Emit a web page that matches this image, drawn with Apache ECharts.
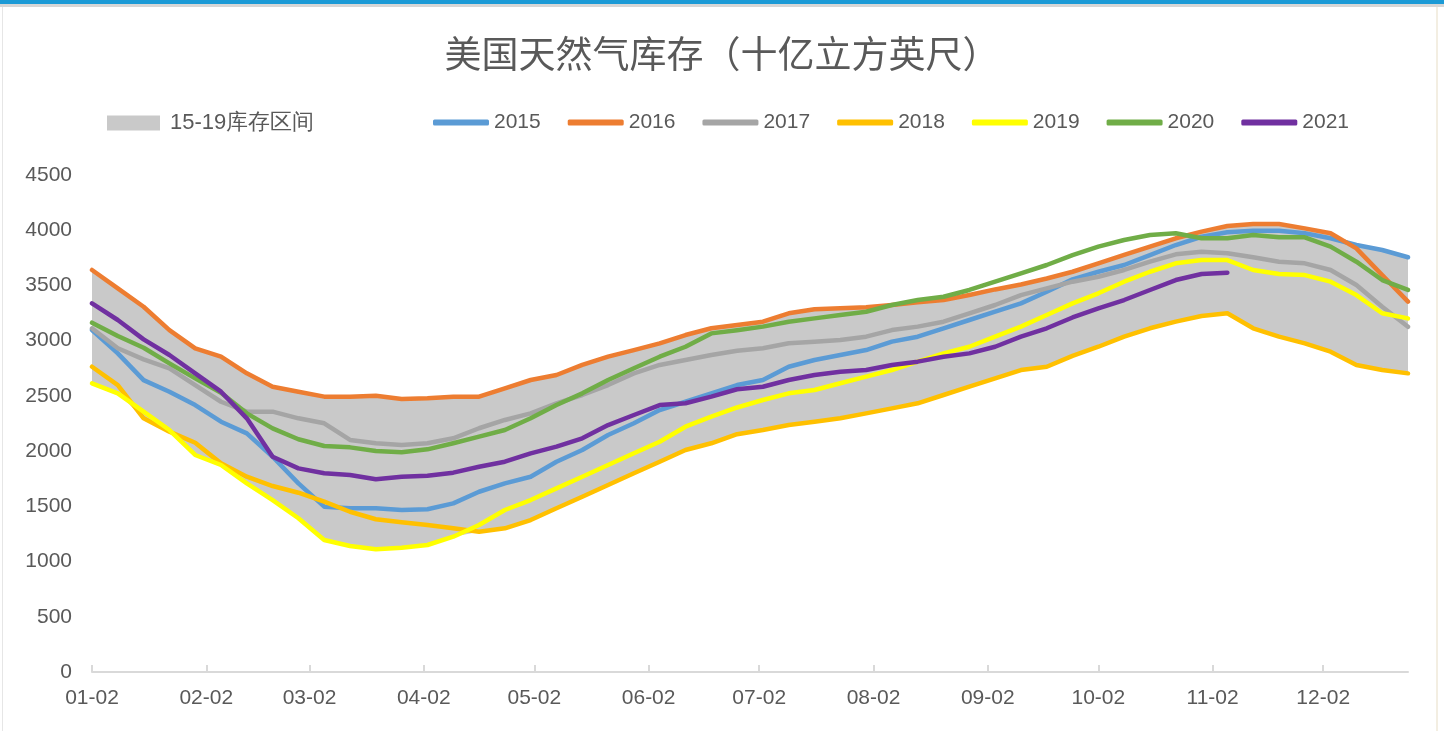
<!DOCTYPE html>
<html>
<head>
<meta charset="utf-8">
<script src="https://cdn.jsdelivr.net/npm/echarts@6/dist/echarts.min.js"></script>
<style>
  html, body { margin: 0; padding: 0; background: #fff; }
  #chart { width: 1444px; height: 731px; }
</style>
</head>
<body>
<div id="chart"></div>
<script>
// weekly report dates (MM-DD)
const weeks = [
  '01-02','01-09','01-16','01-23','01-30','02-06','02-13','02-20','02-27',
  '03-06','03-13','03-20','03-27','04-03','04-10','04-17','04-24',
  '05-01','05-08','05-15','05-22','05-29','06-05','06-12','06-19','06-26',
  '07-03','07-10','07-17','07-24','07-31','08-07','08-14','08-21','08-28',
  '09-04','09-11','09-18','09-25','10-02','10-09','10-16','10-23','10-30',
  '11-06','11-13','11-20','11-27','12-04','12-11','12-18','12-25'
];
const monthTicks = ['01-02','02-02','03-02','04-02','05-02','06-02','07-02','08-02','09-02','10-02','11-02','12-02'];
const yTicks = { min: 0, max: 4500, step: 500 };

const s2015 = [3096,2885,2643,2538,2417,2266,2161,1949,1708,1497,1482,1482,1467,1473,
  1527,1632,1708,1768,1904,2010,2146,2252,2372,2447,2523,2598,
  2644,2764,2825,2870,2915,2991,3036,3112,3187,3262,3338,3443,
  3555,3624,3685,3775,3866,3941,3981,3996,3996,3972,3927,3866,3821,3755];
const s2016 = [3640,3474,3307,3096,2930,2855,2704,2583,2538,2493,2493,2502,2472,2478,
  2493,2493,2569,2644,2689,2780,2855,2915,2976,3051,3112,3142,
  3172,3248,3285,3294,3303,3323,3348,3368,3413,3464,3509,3563,
  3624,3700,3776,3851,3927,3987,4038,4056,4056,4017,3972,3836,3594,3353];
const s2017 = [3112,2931,2831,2750,2598,2447,2357,2357,2297,2252,2101,2071,2055,2071,
  2116,2207,2282,2342,2433,2508,2598,2704,2780,2825,2870,2908,
  2931,2976,2991,3006,3036,3096,3127,3172,3248,3323,3413,3474,
  3534,3579,3640,3715,3782,3806,3791,3755,3715,3700,3640,3504,3307,3126];
const s2018 = [2764,2598,2297,2176,2076,1889,1768,1684,1623,1542,1451,1383,1355,1331,
  1301,1270,1301,1376,1482,1587,1693,1799,1904,2010,2071,2153,
  2191,2236,2266,2297,2342,2387,2433,2508,2583,2659,2734,2764,
  2862,2945,3036,3112,3172,3223,3248,3112,3036,2976,2900,2780,2734,2704];
const s2019 = [2614,2523,2357,2191,1965,1874,1708,1557,1392,1195,1141,1111,1126,1150,
  1225,1331,1467,1557,1663,1768,1874,1980,2085,2221,2312,2395,
  2463,2523,2553,2614,2674,2734,2810,2885,2945,3036,3127,3232,
  3338,3429,3534,3624,3700,3730,3730,3640,3604,3594,3534,3413,3248,3202];
const s2020 = [3163,3042,2936,2795,2659,2529,2342,2206,2107,2046,2034,2001,1989,2016,
  2071,2131,2191,2297,2417,2523,2644,2750,2855,2945,3066,3095,
  3127,3172,3202,3232,3262,3323,3368,3398,3459,3534,3610,3685,
  3775,3851,3911,3957,3972,3927,3927,3957,3936,3936,3851,3715,3549,3459];
const s2021 = [3338,3187,3012,2870,2704,2538,2297,1949,1844,1799,1784,1745,1768,1777,
  1805,1859,1904,1980,2040,2116,2236,2327,2417,2433,2493,2560,
  2583,2644,2689,2719,2734,2780,2810,2855,2885,2945,3036,3112,
  3210,3293,3368,3459,3549,3604,3615];

const yearNames = ['2015','2016','2017','2018','2019','2020','2021'];
const yearData = [s2015, s2016, s2017, s2018, s2019, s2020, s2021];
const yearColors = ['#5b9bd5','#ed7d31','#a5a5a5','#ffc000','#ffff00','#70ad47','#7030a0'];
const bandName = '15-19库存区间';

// day offset from 01-02
function dayOf(md) {
  const [m, d] = md.split('-').map(Number);
  return (Date.UTC(2021, m - 1, d) - Date.UTC(2021, 0, 2)) / 86400000;
}
const weekDays = weeks.map(dayOf);
const tickDays = monthTicks.map(dayOf);
const tickLabel = {};
monthTicks.forEach((t, i) => { tickLabel[tickDays[i]] = t; });

// 2015-2019 range band
const histYears = [s2015, s2016, s2017, s2018, s2019];
const bandLow = weeks.map((w, i) => Math.min(...histYears.map(s => s[i])));
const bandHigh = weeks.map((w, i) => Math.max(...histYears.map(s => s[i])));

const pair = arr => arr.map((v, i) => [weekDays[i], v]);

const font = 'Liberation Sans, Arial, sans-serif';
const txt = '#595959';

var chart = echarts.init(document.getElementById('chart'));

// band drawn on a hidden weekly category axis so it can be stacked
var series = [
  {
    name: 'bandLow',
    type: 'line',
    xAxisIndex: 1,
    stack: 'band',
    data: bandLow,
    symbol: 'none',
    lineStyle: { opacity: 0, width: 0 },
    silent: true,
    z: 1
  },
  {
    name: bandName,
    type: 'line',
    xAxisIndex: 1,
    stack: 'band',
    data: bandHigh.map((v, i) => v - bandLow[i]),
    symbol: 'none',
    lineStyle: { opacity: 0, width: 0 },
    areaStyle: { color: '#c9c9c9', opacity: 1 },
    itemStyle: { color: '#c9c9c9' },
    silent: true,
    z: 1
  }
];
yearNames.forEach(function (name, k) {
  series.push({
    name: name,
    type: 'line',
    xAxisIndex: 0,
    data: pair(yearData[k]),
    symbol: 'none',
    color: yearColors[k],
    lineStyle: { width: 4.5, cap: 'round', join: 'round' },
    z: 2 + k
  });
});

chart.setOption({
  animation: false,
  backgroundColor: '#fff',
  title: {
    text: '美国天然气库存（十亿立方英尺）',
    left: 'center',
    top: 30,
    textStyle: {
      fontFamily: 'Noto Sans CJK SC',
      fontSize: 37,
      fontWeight: 'normal',
      color: txt
    }
  },
  legend: [
    {
      data: [{ name: bandName, icon: 'rect' }],
      left: 102,
      top: 107,
      itemWidth: 53,
      itemHeight: 15,
      textStyle: { fontFamily: font, fontSize: 22, color: txt, padding: [0, 0, 0, 5] }
    },
    {
      data: yearNames.map(n => ({ name: n, icon: 'roundRect' })),
      left: 428,
      top: 107,
      itemWidth: 56,
      itemHeight: 6,
      itemGap: 27,
      textStyle: { fontFamily: font, fontSize: 21, color: txt, width: 50 }
    }
  ],
  grid: { left: 92, right: 36, top: 175, bottom: 59, containLabel: false },
  xAxis: [
    {
      type: 'value',
      min: 0,
      max: 357,
      axisLine: { show: true, lineStyle: { color: '#d9d9d9', width: 2 } },
      axisTick: {
        show: true,
        inside: true,
        length: 7,
        customValues: tickDays,
        lineStyle: { color: '#d9d9d9', width: 2 }
      },
      axisLabel: {
        customValues: tickDays,
        formatter: v => tickLabel[v] || '',
        fontFamily: font,
        fontSize: 21,
        color: txt,
        margin: 16
      },
      splitLine: { show: false }
    },
    {
      type: 'category',
      data: weeks,
      boundaryGap: false,
      show: false
    }
  ],
  yAxis: {
    type: 'value',
    min: yTicks.min,
    max: yTicks.max,
    interval: yTicks.step,
    axisLine: { show: false },
    axisTick: { show: false },
    splitLine: { show: false },
    axisLabel: {
      fontFamily: font,
      fontSize: 21,
      color: txt,
      margin: 20,
      formatter: v => String(v)
    }
  },
  graphic: [
    { type: 'rect', left: 0, top: 0, shape: { width: 1444, height: 4 }, style: { fill: '#1b9ad6' }, silent: true },
    { type: 'rect', left: 0, top: 4, shape: { width: 1444, height: 3 }, style: { fill: '#d6d6d6' }, silent: true },
    { type: 'rect', left: 2, top: 7, shape: { width: 1, height: 724 }, style: { fill: '#e6e6e6' }, silent: true },
    { type: 'rect', left: 1436, top: 7, shape: { width: 2, height: 724 }, style: { fill: '#f3eee2' }, silent: true }
  ],
  series: series
});

window.addEventListener('resize', function () {
  chart.resize();
});
</script>
</body>
</html>
